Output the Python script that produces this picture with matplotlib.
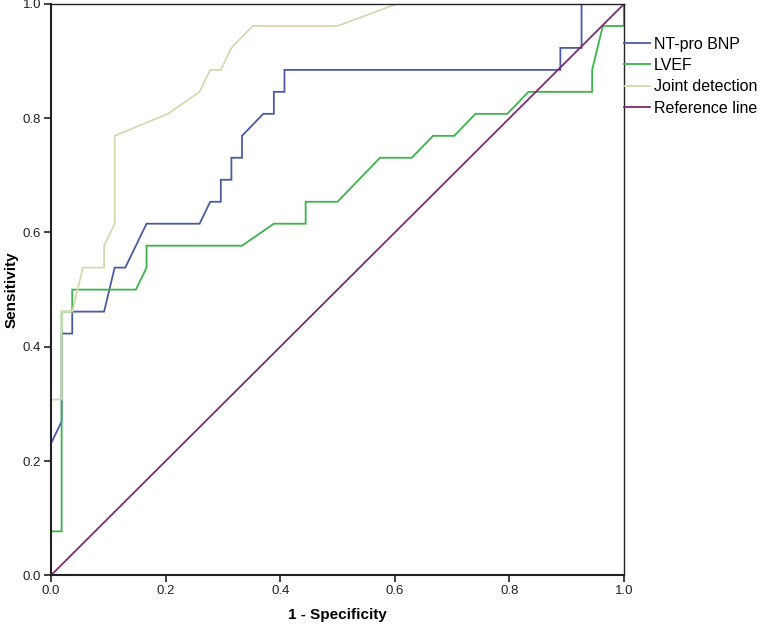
import matplotlib
matplotlib.use("Agg")
import matplotlib.pyplot as plt

plt.rcParams["font.family"] = ["Liberation Sans", "DejaVu Sans"]

# ROC curve vertices (1 - specificity, sensitivity)
bnp_x = [0.0, 0.0, 0.0185, 0.0185, 0.037, 0.037, 0.0926, 0.1111, 0.1296, 0.1667,
         0.2593, 0.2778, 0.2963, 0.2963, 0.3148, 0.3148, 0.3333, 0.3333, 0.3704,
         0.3889, 0.3889, 0.4074, 0.4074, 0.8889, 0.8889, 0.9259, 0.9259, 1.0]
bnp_y = [0.0, 0.2308, 0.2692, 0.4231, 0.4231, 0.4615, 0.4615, 0.5385, 0.5385, 0.6154,
         0.6154, 0.6538, 0.6538, 0.6923, 0.6923, 0.7308, 0.7308, 0.7692, 0.8077,
         0.8077, 0.8462, 0.8462, 0.8846, 0.8846, 0.9231, 0.9231, 1.0, 1.0]

lvef_x = [0.0, 0.0, 0.0185, 0.0185, 0.037, 0.037, 0.1481, 0.1667, 0.1667, 0.3333,
          0.3889, 0.4444, 0.4444, 0.5, 0.5741, 0.6296, 0.6667, 0.7037, 0.7407,
          0.7963, 0.8333, 0.9444, 0.9444, 0.963, 1.0, 1.0]
lvef_y = [0.0, 0.0769, 0.0769, 0.4615, 0.4615, 0.5, 0.5, 0.5385, 0.5769, 0.5769,
          0.6154, 0.6154, 0.6538, 0.6538, 0.7308, 0.7308, 0.7692, 0.7692, 0.8077,
          0.8077, 0.8462, 0.8462, 0.8846, 0.9615, 0.9615, 1.0]

joint_x = [0.0, 0.0, 0.0185, 0.0185, 0.037, 0.0556, 0.0926, 0.0926, 0.1111, 0.1111,
           0.2037, 0.2593, 0.2778, 0.2963, 0.3148, 0.3519, 0.5, 0.6035, 1.0]
joint_y = [0.0, 0.3077, 0.3077, 0.4615, 0.4615, 0.5385, 0.5385, 0.5769, 0.6154, 0.7692,
           0.8077, 0.8462, 0.8846, 0.8846, 0.9231, 0.9615, 0.9615, 1.0, 1.0]

ref_x = [0.0, 1.0]
ref_y = [0.0, 1.0]

series = [
    ("NT-pro BNP", bnp_x, bnp_y, "#4c5aa6"),
    ("LVEF", lvef_x, lvef_y, "#3cb44b"),
    ("Joint detection", joint_x, joint_y, "#d9d6b0"),
    ("Reference line", ref_x, ref_y, "#7a2e6e"),
]

fig = plt.figure(figsize=(7.65, 6.31), dpi=100)
ax = fig.add_axes([0.0667, 0.0883, 0.749, 0.9054])

for label, xs, ys, color in series:
    ax.plot(xs, ys, color=color, lw=1.3, label=label, solid_joinstyle="miter")

ax.set_xlim(0, 1)
ax.set_ylim(0, 1)
ticks = [0.0, 0.2, 0.4, 0.6, 0.8, 1.0]
ax.set_xticks(ticks)
ax.set_yticks(ticks)
ax.set_xticklabels([f"{t:.1f}" for t in ticks])
ax.set_yticklabels([f"{t:.1f}" for t in ticks])
ax.tick_params(direction="out", length=5, width=1.2, labelsize=9.5, colors="#222222",
               pad=2)
for side, sp in ax.spines.items():
    sp.set_color("#222222")
    sp.set_linewidth(1.5 if side in ("left", "bottom") else 1.0)

ax.set_xlabel("1 - Specificity", fontsize=11, fontweight="bold", labelpad=8)
ax.set_ylabel("Sensitivity", fontsize=11, fontweight="bold", labelpad=3)

leg = ax.legend(loc="upper left", bbox_to_anchor=(1.0, 0.943), frameon=False,
                fontsize=11.5, handlelength=1.6, handletextpad=0.25,
                labelspacing=0.4, borderaxespad=0, borderpad=0)

fig.savefig("out.png", dpi=100)
